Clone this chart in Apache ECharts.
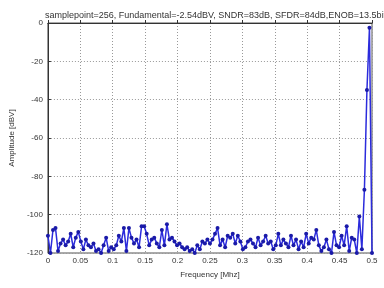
<!DOCTYPE html>
<html>
<head>
<meta charset="utf-8">
<script src="https://cdn.jsdelivr.net/npm/echarts@6/dist/echarts.min.js"></script>
<style>
  html, body { margin: 0; padding: 0; background: #fff; }
  #chart { width: 384px; height: 288px; }
</style>
</head>
<body>
<div id="chart"></div>
<script>
// FFT spectrum, 256 samples -> bins 0..128
const samplePoints = 256
const titleText = 'samplepoint=256, Fundamental=-2.54dBV, SNDR=83dB, SFDR=84dB,ENOB=13.5bit'
const yTicks = [0, -20, -40, -60, -80, -100, -120]
const amplitude = [
  -111, -120, -108, -107, -119, -115, -113, -116, -114, -110,
  -117, -112, -109, -114, -118, -113, -116, -117, -115, -119,
  -118, -120, -116, -112, -119, -117, -118, -116, -111, -114,
  -107, -119, -107, -112, -115, -113, -117, -106, -106, -110,
  -116, -113, -112, -115, -117, -108, -116, -105, -113, -112,
  -114, -116, -115, -117, -118, -117, -119, -118, -120, -116,
  -118, -114, -115, -113, -115, -113, -110, -107, -116, -113,
  -117, -111, -112, -110, -115, -111, -114, -118, -117, -114,
  -113, -115, -117, -112, -116, -114, -111, -115, -114, -118,
  -116, -110, -116, -113, -115, -117, -111, -116, -113, -118,
  -114, -117, -110, -115, -112, -113, -108, -116, -119, -117,
  -113, -118, -120, -109, -116, -117, -111, -116, -106, -119,
  -112, -113, -120, -101, -118, -87, -35, -2.54, -120
]

const chart = echarts.init(document.getElementById('chart'))
const points = amplitude.map((v, k) => [k / samplePoints, v])
const labelStyle = { color: '#333', fontSize: 8, fontFamily: 'Liberation Sans' }
const gridLine = { show: true, lineStyle: { color: '#999', type: [1, 2], width: 1 } }

chart.setOption({
  animation: false,
  title: {
    text: titleText,
    left: 40,
    top: 6,
    textStyle: { fontSize: 9, fontWeight: 'normal', color: '#333', fontFamily: 'Liberation Sans' }
  },
  grid: {
    left: 45, right: 12, top: 23, bottom: 35,
    show: true, borderColor: '#555', borderWidth: 1
  },
  xAxis: {
    type: 'value',
    min: 0,
    max: 0.5,
    interval: 0.05,
    name: 'Frequency [Mhz]',
    nameLocation: 'middle',
    nameGap: 18,
    nameTextStyle: labelStyle,
    axisLine: { lineStyle: { color: '#333' } },
    axisTick: { inside: true, length: 3, lineStyle: { color: '#333' } },
    axisLabel: Object.assign({ margin: 4 }, labelStyle),
    splitLine: gridLine
  },
  yAxis: {
    type: 'value',
    min: -120,
    max: 0,
    interval: 20,
    name: 'Amplitude [dBV]',
    nameLocation: 'middle',
    nameGap: 26,
    nameTextStyle: labelStyle,
    axisLine: { show: true, lineStyle: { color: '#333' } },
    axisTick: { show: true, inside: true, length: 3, lineStyle: { color: '#333' } },
    axisLabel: Object.assign({ margin: 5 }, labelStyle),
    splitLine: gridLine
  },
  series: [{
    type: 'line',
    data: points,
    symbol: 'circle',
    symbolSize: 4,
    showAllSymbol: true,
    lineStyle: { color: '#2b2bdc', width: 1.5 },
    itemStyle: { color: '#1a1aa8' }
  }]
})
</script>
</body>
</html>
